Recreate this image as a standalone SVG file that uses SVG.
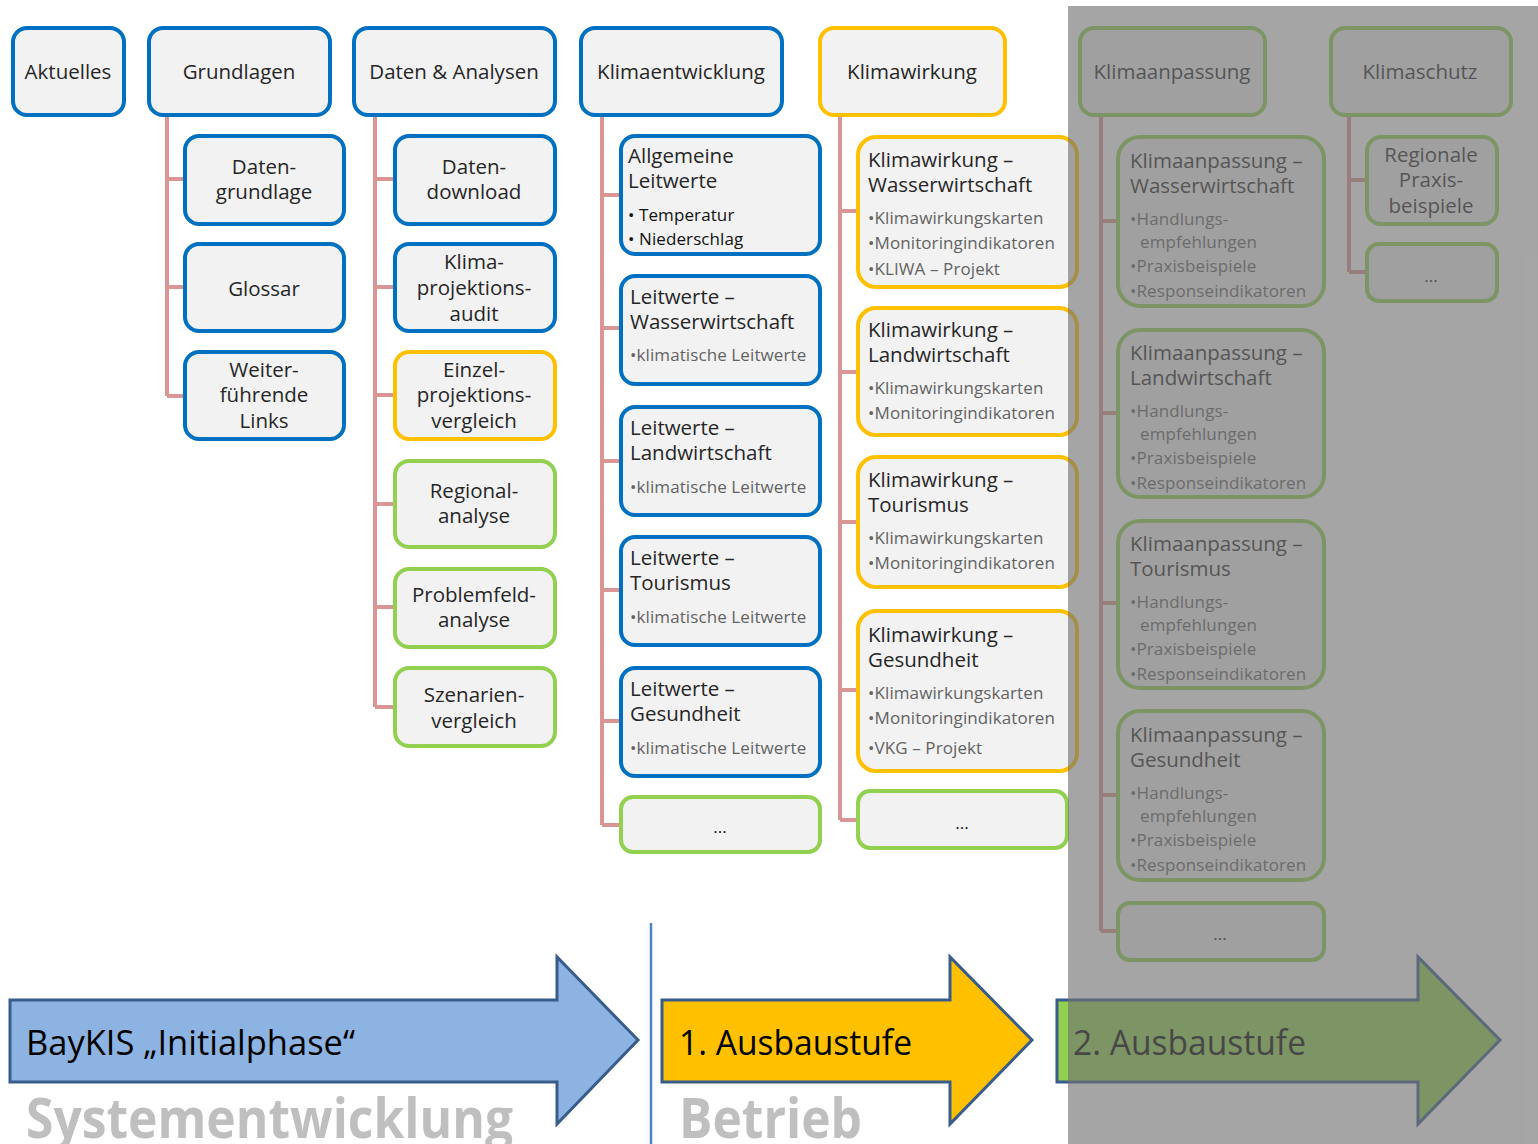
<svg xmlns="http://www.w3.org/2000/svg" width="1538" height="1144" viewBox="0 0 1538 1144">
  <style>
    .box { fill: #f2f2f2; stroke-width: 4; }
    .blue { stroke: #0070c0; }
    .orange { stroke: #ffc000; }
    .green { stroke: #92d050; }
    .t { font-family: "Open Sans", "Noto Sans", sans-serif; font-size: 20.5px; fill: #262626; dominant-baseline: central; }
    .c { text-anchor: middle; }
    .b { font-family: "Open Sans", "Noto Sans", sans-serif; font-size: 17px; fill: #636363; dominant-baseline: central; letter-spacing: 0.1px; }
    .bk { fill: #111; }
    .conn { fill: none; stroke: #d99694; stroke-width: 4; }
    .arrow { stroke: #385d8a; stroke-width: 3; }
    .big { font-family: "Open Sans", "Noto Sans", sans-serif; font-size: 34px; fill: #000; }
    .phase { font-family: "Open Sans", "Noto Sans", sans-serif; font-size: 56px; font-weight: bold; fill: #bfbfbf; }
  </style>

  <rect width="1538" height="1144" fill="#ffffff"/>

  <!-- tree connectors -->
  <g id="connectors" class="conn">
    <path d="M167 115 V396 M167 179 H187 M167 287 H187 M167 396 H187"/>
    <path d="M375 115 V707 M375 179 H397 M375 287 H397 M375 395 H397 M375 504 H397 M375 607 H397 M375 707 H397"/>
    <path d="M602 115 V825 M602 195 H623 M602 328 H623 M602 461 H623 M602 590 H623 M602 721 H623 M602 825 H623"/>
    <path d="M840 115 V820 M840 211 H860 M840 372 H860 M840 522 H860 M840 690 H860 M840 820 H860"/>
    <path d="M1101 115 V931 M1101 221 H1119 M1101 413 H1119 M1101 603 H1119 M1101 795 H1119 M1101 931 H1119"/>
    <path d="M1349 115 V272 M1349 180 H1369 M1349 272 H1369"/>
  </g>

  <!-- top level -->
  <g id="aktuelles"><rect class="box blue" x="13" y="28" width="111" height="87" rx="14"/><text class="t c" x="68" y="71">Aktuelles</text></g>
  <g id="grundlagen"><rect class="box blue" x="149" y="28" width="181" height="87" rx="14"/><text class="t c" x="239" y="71">Grundlagen</text></g>
  <g id="daten-analysen"><rect class="box blue" x="354" y="28" width="201" height="87" rx="14"/><text class="t c" x="454" y="71">Daten &amp; Analysen</text></g>
  <g id="klimaentwicklung"><rect class="box blue" x="581" y="28" width="201" height="87" rx="14"/><text class="t c" x="681" y="71">Klimaentwicklung</text></g>
  <g id="klimawirkung"><rect class="box orange" x="820" y="28" width="185" height="87" rx="14"/><text class="t c" x="912" y="71">Klimawirkung</text></g>
  <g id="klimaanpassung"><rect class="box green" x="1080" y="28" width="185" height="87" rx="14"/><text class="t c" x="1172" y="71">Klimaanpassung</text></g>
  <g id="klimaschutz"><rect class="box green" x="1331" y="28" width="180" height="87" rx="14"/><text class="t c" x="1420" y="71">Klimaschutz</text></g>

  <!-- Grundlagen children -->
  <g id="datengrundlage"><rect class="box blue" x="185" y="136" width="159" height="88" rx="14"/><text class="t c" x="264" y="166">Daten-</text><text class="t c" x="264" y="191">grundlage</text></g>
  <g id="glossar"><rect class="box blue" x="185" y="244" width="159" height="87" rx="14"/><text class="t c" x="264" y="288">Glossar</text></g>
  <g id="links"><rect class="box blue" x="185" y="352" width="159" height="87" rx="14"/><text class="t c" x="264" y="369">Weiter-</text><text class="t c" x="264" y="394">führende</text><text class="t c" x="264" y="420">Links</text></g>

  <!-- Daten & Analysen children -->
  <g id="datendownload"><rect class="box blue" x="395" y="136" width="160" height="88" rx="14"/><text class="t c" x="474" y="166">Daten-</text><text class="t c" x="474" y="191">download</text></g>
  <g id="audit"><rect class="box blue" x="395" y="244" width="160" height="87" rx="14"/><text class="t c" x="474" y="261">Klima-</text><text class="t c" x="474" y="287">projektions-</text><text class="t c" x="474" y="313">audit</text></g>
  <g id="einzelvergleich"><rect class="box orange" x="395" y="352" width="160" height="87" rx="14"/><text class="t c" x="474" y="369">Einzel-</text><text class="t c" x="474" y="394">projektions-</text><text class="t c" x="474" y="420">vergleich</text></g>
  <g id="regionalanalyse"><rect class="box green" x="395" y="461" width="160" height="86" rx="14"/><text class="t c" x="474" y="490">Regional-</text><text class="t c" x="474" y="515">analyse</text></g>
  <g id="problemfeldanalyse"><rect class="box green" x="395" y="569" width="160" height="78" rx="14"/><text class="t c" x="474" y="594">Problemfeld-</text><text class="t c" x="474" y="619">analyse</text></g>
  <g id="szenarienvergleich"><rect class="box green" x="395" y="668" width="160" height="78" rx="14"/><text class="t c" x="474" y="694">Szenarien-</text><text class="t c" x="474" y="720">vergleich</text></g>

  <!-- Klimaentwicklung children -->
  <g id="allg-leitwerte"><rect class="box blue" x="621" y="136" width="199" height="118" rx="14"/><text class="t" x="628" y="155">Allgemeine</text><text class="t" x="628" y="180">Leitwerte</text><text class="b bk" x="628" y="214">• Temperatur</text><text class="b bk" x="628" y="238">• Niederschlag</text></g>
  <g id="lw-wasser"><rect class="box blue" x="621" y="276" width="199" height="108" rx="14"/><text class="t" x="630" y="296">Leitwerte –</text><text class="t" x="630" y="321">Wasserwirtschaft</text><text class="b" x="630" y="354">•klimatische Leitwerte</text></g>
  <g id="lw-land"><rect class="box blue" x="621" y="407" width="199" height="108" rx="14"/><text class="t" x="630" y="427">Leitwerte –</text><text class="t" x="630" y="452">Landwirtschaft</text><text class="b" x="630" y="486">•klimatische Leitwerte</text></g>
  <g id="lw-tourismus"><rect class="box blue" x="621" y="537" width="199" height="108" rx="14"/><text class="t" x="630" y="557">Leitwerte –</text><text class="t" x="630" y="582">Tourismus</text><text class="b" x="630" y="616">•klimatische Leitwerte</text></g>
  <g id="lw-gesundheit"><rect class="box blue" x="621" y="668" width="199" height="108" rx="14"/><text class="t" x="630" y="688">Leitwerte –</text><text class="t" x="630" y="713">Gesundheit</text><text class="b" x="630" y="747">•klimatische Leitwerte</text></g>
  <g id="lw-more"><rect class="box green" x="621" y="797" width="199" height="55" rx="12"/><text class="b bk c" x="720" y="826">...</text></g>

  <!-- Klimawirkung children -->
  <g id="kw-wasser"><rect class="box orange" x="858" y="137" width="219" height="150" rx="18"/><text class="t" x="868" y="159">Klimawirkung –</text><text class="t" x="868" y="184">Wasserwirtschaft</text><text class="b" x="868" y="217">•Klimawirkungskarten</text><text class="b" x="868" y="242">•Monitoringindikatoren</text><text class="b" x="868" y="268">•KLIWA – Projekt</text></g>
  <g id="kw-land"><rect class="box orange" x="858" y="308" width="219" height="127" rx="18"/><text class="t" x="868" y="329">Klimawirkung –</text><text class="t" x="868" y="354">Landwirtschaft</text><text class="b" x="868" y="387">•Klimawirkungskarten</text><text class="b" x="868" y="412">•Monitoringindikatoren</text></g>
  <g id="kw-tourismus"><rect class="box orange" x="858" y="457" width="219" height="130" rx="18"/><text class="t" x="868" y="479">Klimawirkung –</text><text class="t" x="868" y="504">Tourismus</text><text class="b" x="868" y="537">•Klimawirkungskarten</text><text class="b" x="868" y="562">•Monitoringindikatoren</text></g>
  <g id="kw-gesundheit"><rect class="box orange" x="858" y="611" width="219" height="160" rx="18"/><text class="t" x="868" y="634">Klimawirkung –</text><text class="t" x="868" y="659">Gesundheit</text><text class="b" x="868" y="692">•Klimawirkungskarten</text><text class="b" x="868" y="717">•Monitoringindikatoren</text><text class="b" x="868" y="747">•VKG – Projekt</text></g>
  <g id="kw-more"><rect class="box green" x="858" y="791" width="209" height="57" rx="12"/><text class="b bk c" x="962" y="822">...</text></g>

  <!-- Klimaanpassung children -->
  <g id="ka-wasser"><rect class="box green" x="1118" y="137" width="206" height="169" rx="22"/><text class="t" x="1130" y="160">Klimaanpassung –</text><text class="t" x="1130" y="185">Wasserwirtschaft</text><text class="b" x="1130" y="218">•Handlungs-</text><text class="b" x="1140" y="241">empfehlungen</text><text class="b" x="1130" y="265">•Praxisbeispiele</text><text class="b" x="1130" y="290">•Responseindikatoren</text></g>
  <g id="ka-land"><rect class="box green" x="1118" y="330" width="206" height="167" rx="22"/><text class="t" x="1130" y="352">Klimaanpassung –</text><text class="t" x="1130" y="377">Landwirtschaft</text><text class="b" x="1130" y="410">•Handlungs-</text><text class="b" x="1140" y="433">empfehlungen</text><text class="b" x="1130" y="457">•Praxisbeispiele</text><text class="b" x="1130" y="482">•Responseindikatoren</text></g>
  <g id="ka-tourismus"><rect class="box green" x="1118" y="521" width="206" height="167" rx="22"/><text class="t" x="1130" y="543">Klimaanpassung –</text><text class="t" x="1130" y="568">Tourismus</text><text class="b" x="1130" y="601">•Handlungs-</text><text class="b" x="1140" y="624">empfehlungen</text><text class="b" x="1130" y="648">•Praxisbeispiele</text><text class="b" x="1130" y="673">•Responseindikatoren</text></g>
  <g id="ka-gesundheit"><rect class="box green" x="1118" y="711" width="206" height="169" rx="22"/><text class="t" x="1130" y="734">Klimaanpassung –</text><text class="t" x="1130" y="759">Gesundheit</text><text class="b" x="1130" y="792">•Handlungs-</text><text class="b" x="1140" y="815">empfehlungen</text><text class="b" x="1130" y="839">•Praxisbeispiele</text><text class="b" x="1130" y="864">•Responseindikatoren</text></g>
  <g id="ka-more"><rect class="box green" x="1118" y="903" width="206" height="57" rx="12"/><text class="b bk c" x="1220" y="933">...</text></g>

  <!-- Klimaschutz children -->
  <g id="ks-praxis"><rect class="box green" x="1367" y="137" width="130" height="87" rx="14"/><text class="t c" x="1431" y="154">Regionale</text><text class="t c" x="1431" y="179">Praxis-</text><text class="t c" x="1431" y="205">beispiele</text></g>
  <g id="ks-more"><rect class="box green" x="1367" y="244" width="130" height="57" rx="12"/><text class="b bk c" x="1431" y="275">...</text></g>

  <!-- phase divider -->
  <line x1="651" y1="923" x2="651" y2="1144" stroke="#4f81bd" stroke-width="2.5"/>

  <!-- phase arrows -->
  <g id="phase-initial">
    <polygon class="arrow" fill="#8db3e2" points="10,1000 557,1000 557,957 638,1040 557,1124 557,1082 10,1082"/>
    <text class="big" x="26" y="1055" textLength="329" lengthAdjust="spacingAndGlyphs">BayKIS „Initialphase“</text>
    <text class="phase" x="26" y="1138" textLength="487" lengthAdjust="spacingAndGlyphs">Systementwicklung</text>
  </g>
  <g id="phase-1">
    <polygon class="arrow" fill="#ffc000" points="662,1000 950,1000 950,957 1032,1040 950,1124 950,1082 662,1082"/>
    <text class="big" x="679" y="1055" textLength="233" lengthAdjust="spacingAndGlyphs">1. Ausbaustufe</text>
    <text class="phase" x="679" y="1138" textLength="183" lengthAdjust="spacingAndGlyphs">Betrieb</text>
  </g>
  <g id="phase-2">
    <polygon class="arrow" fill="#92d050" points="1057,1000 1418,1000 1418,957 1500,1040 1418,1124 1418,1082 1057,1082"/>
    <text class="big" x="1073" y="1055" textLength="233" lengthAdjust="spacingAndGlyphs">2. Ausbaustufe</text>
  </g>

  <!-- grey veil over the not-yet-built stage -->
  <rect x="1068" y="6" width="470" height="1138" fill="#717171" fill-opacity="0.63"/>
</svg>
